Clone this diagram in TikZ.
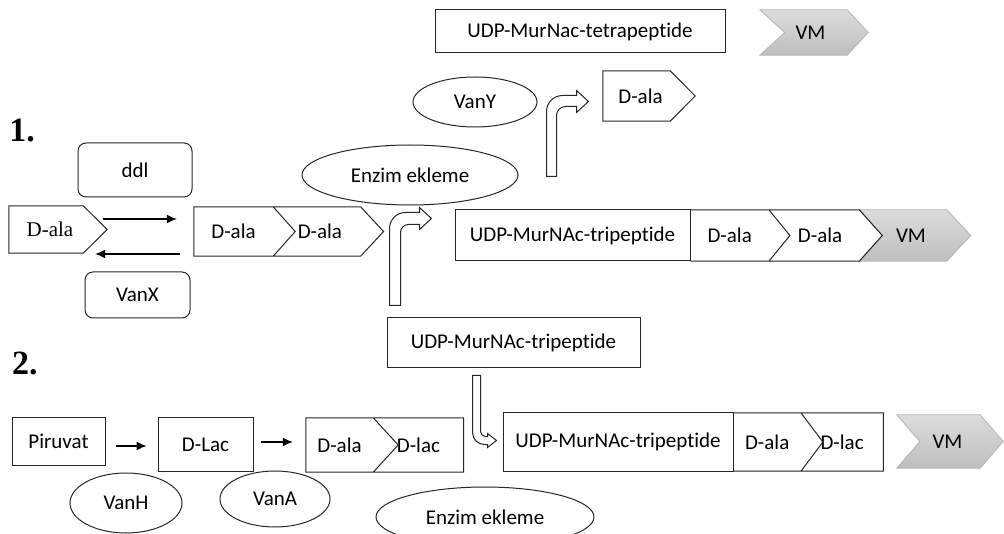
\documentclass[tikz,border=0pt]{standalone}
\usepackage{fontspec}
\setmainfont{Carlito}[Ligatures={NoCommon}]
\newfontfamily\timesfont{Liberation Serif}
\usetikzlibrary{arrows.meta,calc,shapes.geometric,backgrounds}
\definecolor{ink}{HTML}{262626}
\definecolor{vmlight}{HTML}{DCDCDC}
\definecolor{vmdark}{HTML}{BEBEBE}
\definecolor{vmedge}{HTML}{B4B4B4}

\begin{document}
\begin{tikzpicture}[x=1pt,y=-1pt,
  every node/.style={text=black,font=\fontsize{21}{25}\selectfont,inner sep=0pt},
  box/.style={draw=ink,line width=1pt},
  enzyme/.style={draw=ink,line width=1pt,ellipse},
  outline/.style={draw=ink,line width=1pt},
  vm/.style={top color=vmlight,bottom color=vmdark,draw=vmedge,line width=.8pt},
  rxn/.style={-{Latex[length=10pt,width=9pt]},line width=1.3pt},
  bent/.style={draw=ink,line width=1pt,fill=white},
  step no/.style={font=\timesfont\bfseries\fontsize{34}{34}\selectfont}]

\useasboundingbox (0,0) rectangle (1004,534);
\clip (0,0) rectangle (1004,534);

% 1. D-ala-D-ala route
\node[step no] (one) at (22,131) {1.};
\node[box,rounded corners=8pt,minimum width=114pt,minimum height=54pt] (ddl) at (135,170) {ddl};
\node[box,rounded corners=8pt,minimum width=105pt,minimum height=46pt] (vanx) at (137.5,295) {VanX};
\node[minimum width=74pt,minimum height=47pt,font=\timesfont\fontsize{21}{25}\selectfont] (dala) at (46,229.5) {\hspace*{8pt}D-ala};
\node[minimum width=79pt,minimum height=49pt] (dipA) at (233.5,231.5) {D-ala};
\node[anchor=west,minimum width=87pt,minimum height=49pt] (dipB) at (dipA.east) {\hspace*{6pt}D-ala};
\node[enzyme,minimum width=216pt,minimum height=60pt] (enzA) at (410,175) {Enzim ekleme};
\node[enzyme,minimum width=124pt,minimum height=50pt] (vany) at (475,102) {VanY};
\node[box,minimum width=290pt,minimum height=43pt] (tetra) at (580,31.5) {UDP-MurNac-tetrapeptide};
\node[minimum width=87pt,minimum height=45pt] (vmA) at (803.5,32.5) {\hspace*{14pt}VM};
\node[minimum width=67pt,minimum height=50pt] (alaout) at (636.5,96) {\hspace*{8pt}D-ala};

\node[box,minimum width=235pt,minimum height=51pt] (udpA) at (572.5,235.5) {UDP-MurNAc-tripeptide};
\node[anchor=west,minimum width=78pt,minimum height=51pt] (alaA) at (udpA.east) {D-ala};
\node[anchor=west,minimum width=90pt,minimum height=51pt] (alaB) at (alaA.east) {\hspace*{12pt}D-ala};
\node[anchor=west,minimum width=87pt,minimum height=51pt] (vmB) at (alaB.east) {\hspace*{16pt}VM};

\node[box,minimum width=253pt,minimum height=50pt] (udpmid) at (513.5,343) {UDP-MurNAc-tripeptide};

% 2. D-ala-D-lac route
\node[step no] (two) at (25,363) {2.};
\node[box,minimum width=93pt,minimum height=47pt] (piruvat) at (58.5,441.5) {Piruvat};
\node[box,minimum width=95pt,minimum height=53pt] (dlac) at (205.5,444.5) {D-Lac};
\node[minimum width=67pt,minimum height=54pt] (alaC) at (339.5,445) {D-ala};
\node[anchor=west,minimum width=90pt,minimum height=54pt] (lacC) at (alaC.east) {D-lac};
\node[box,minimum width=230pt,minimum height=58pt] (udpB) at (618,442) {UDP-MurNAc-tripeptide};
\node[anchor=west,minimum width=67pt,minimum height=58pt] (alaD) at (udpB.east) {D-ala};
\node[anchor=west,minimum width=82pt,minimum height=58pt] (lacD) at (alaD.east) {D-lac};
\node[minimum width=83pt,minimum height=53pt] (vmC) at (938.5,441.5) {\hspace*{18pt}VM};
\node[enzyme,minimum width=112pt,minimum height=60pt] (vanh) at (126,503) {VanH};
\node[enzyme,minimum width=110pt,minimum height=56pt] (vana) at (275,499) {VanA};
\node[enzyme,minimum width=218pt,minimum height=60pt] (enzB) at (485,517) {Enzim ekleme};

% pointed outlines around the residues
\draw[outline] (dala.north west) -- (dala.north east) -- ($(dala.east)+(24,0)$)
  -- (dala.south east) -- (dala.south west) -- cycle;
\draw[outline] (dipA.north west) -- (dipB.north east) -- ($(dipB.east)+(23,0)$)
  -- (dipB.south east) -- (dipA.south west) -- cycle
  (dipA.north east) -- ($(dipA.east)+(22,0)$) -- (dipA.south east);
\draw[outline] (alaout.north west) -- (alaout.north east) -- ($(alaout.east)+(25,0)$)
  -- (alaout.south east) -- (alaout.south west) -- cycle;
\draw[outline] (alaA.north west) -- (alaB.north east) -- ($(alaB.east)+(23,0)$)
  -- (alaB.south east) -- (alaA.south west)
  (alaA.north east) -- ($(alaA.east)+(21,0)$) -- (alaA.south east);
\draw[outline] (alaC.north west) -- (lacC.north east) -- (lacC.south east)
  -- (alaC.south west) -- cycle
  (alaC.north east) -- ($(alaC.east)+(25,0)$) -- (alaC.south east);
\draw[outline] (alaD.north west) -- (lacD.north east) -- (lacD.south east)
  -- (alaD.south west)
  (alaD.north east) -- ($(alaD.east)+(22,0)$) -- (alaD.south east);

% grey VM chevrons sit under the text
\begin{scope}[on background layer]
\path[vm] (vmA.north west) -- (vmA.north east) -- ($(vmA.east)+(21,0)$)
  -- (vmA.south east) -- (vmA.south west) -- ($(vmA.west)+(25,0)$) -- cycle;
\path[vm] (vmB.north west) -- (vmB.north east) -- ($(vmB.east)+(24,0)$)
  -- (vmB.south east) -- (vmB.south west) -- ($(vmB.west)+(23,0)$) -- cycle;
\path[vm] (vmC.north west) -- (vmC.north east) -- ($(vmC.east)+(23,0)$)
  -- (vmC.south east) -- (vmC.south west) -- ($(vmC.west)+(23,0)$) -- cycle;
\end{scope}

\draw[rxn] ($(dala.east)+(20,-10.5)$) -- ($(dipA.west)+(-17,-12.5)$);
\draw[rxn] ($(dipA.west)+(-14,22.5)$) -- ($(dala.east)+(12,24.5)$);
\draw[rxn] ($(piruvat.east)+(10,4.5)$) -- ($(dlac.west)+(-11,1.5)$);
\draw[rxn] ($(dlac.east)+(7,-2.5)$) -- ($(alaC.west)+(-13,-3)$);

% bent block arrows
\draw[bent] ($(udpmid.north west)+(3,-12)$) -- ++(0,-77)
  to[out=90,in=180] ++(16,-16) -- ++(14,0) -- ++(0,-5) -- ++(12,11)
  -- ++(-12,11) -- ++(0,-5) -- ++(-11,0) to[out=180,in=90] ++(-8,8)
  -- ++(0,73) -- cycle;
\draw[bent] ($(udpA.north west)+(92,-33)$) -- ++(0,-65)
  to[out=90,in=180] ++(16,-16) -- ++(14,0) -- ++(0,-5) -- ++(12,11)
  -- ++(-12,11) -- ++(0,-6) -- ++(-11,0) to[out=180,in=90] ++(-9,9)
  -- ++(0,61) -- cycle;
\draw[bent] ($(udpmid.south west)+(86,7)$) -- ++(0,57)
  to[out=-90,in=180] ++(12,12) -- ++(3,0) -- ++(0,3) -- ++(9,-7)
  -- ++(-9,-7) -- ++(0,3) -- ++(-2,0) to[out=180,in=-90] ++(-5,-5)
  -- ++(0,-56) -- cycle;
\end{tikzpicture}
\end{document}
